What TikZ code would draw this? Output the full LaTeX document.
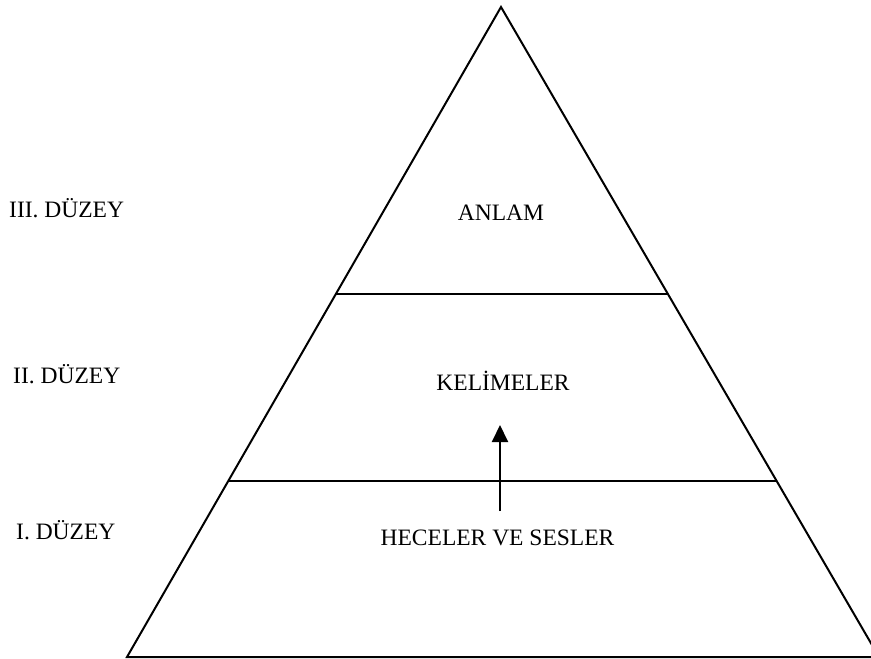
\documentclass[tikz,border=0pt]{standalone}
\usepackage{fontspec}
\setmainfont{Liberation Serif}
\usetikzlibrary{arrows.meta,calc}
\begin{document}
\begin{tikzpicture}[x=1pt,y=-1pt,
  edge/.style={line width=2pt,line join=miter},
  lbl/.style={inner sep=0pt,font=\fontsize{23.5}{27}\selectfont},
  arr/.style={line width=2pt,-{Triangle[width=16pt,length=17pt]}}]
\useasboundingbox (0,0) rectangle (871,659);
\clip (0,0) rectangle (871,659);
\coordinate (apex) at (501,7);
\coordinate (bl) at (127,657);
\coordinate (br) at (879,657);
\draw[edge] (apex) -- (bl) -- (br) -- cycle;
\coordinate (l1) at ($(apex)!0.4415!(bl)$);
\coordinate (r1) at ($(apex)!0.4415!(br)$);
\coordinate (l2) at ($(apex)!0.7292!(bl)$);
\coordinate (r2) at ($(apex)!0.7292!(br)$);
\draw[edge] (l1) -- (r1);
\draw[edge] (l2) -- (r2);
\node[lbl,anchor=base west] (d3) at (9,217) {III. DÜZEY};
\node[lbl,anchor=base west] (d2) at (13,383) {II. DÜZEY};
\node[lbl,anchor=base west] (d1) at (16,539) {I. DÜZEY};
\node[lbl,anchor=base] (anlam) at (501,220) {ANLAM};
\node[lbl,anchor=base] (kel) at (503,390) {KELİMELER};
\node[lbl,anchor=base] (hec) at (497.5,545) {HECELER VE SESLER};
\coordinate (atail) at (500,511);
\coordinate (ahead) at (500,425);
\draw[arr] (atail) -- (ahead);
\end{tikzpicture}
\end{document}
